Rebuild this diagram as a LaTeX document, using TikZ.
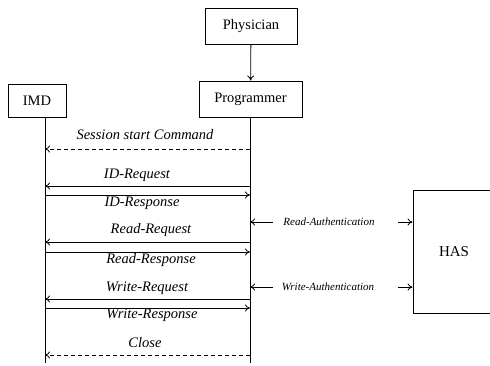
\documentclass[tikz,border=0pt]{standalone}
\usepackage{fontspec}
\setmainfont{Liberation Serif}
\usetikzlibrary{arrows.meta}
\begin{document}
\begin{tikzpicture}[x=1pt,y=-1pt,
  box/.style={draw,line width=0.9pt,inner sep=0pt,font=\fontsize{14.5}{17}\selectfont},
  msg/.style={line width=0.8pt,-{To[length=5pt,width=7pt]}},
  dmsg/.style={msg,dash pattern=on 4pt off 3pt},
  lab/.style={font=\fontsize{14.5}{17}\selectfont\itshape,inner sep=0pt},
  alab/.style={font=\fontsize{11}{13}\selectfont\itshape,inner sep=0pt},
  life/.style={line width=0.8pt}]
\clip (0,0) rectangle (490,365);
\fill[white] (0,0) rectangle (490,365);
% boxes
\node[box,minimum width=92pt,minimum height=36pt] (phys) at (251,26) {Physician};
\node[box,minimum width=103pt,minimum height=36pt] (prog) at (250.5,99) {Programmer};
\node[box,minimum width=58pt,minimum height=33pt] (imd) at (37,100.5) {IMD};
\node[box,minimum width=82pt,minimum height=123pt,font=\fontsize{15}{18}\selectfont] (has) at (454,251.5) {HAS};
\draw[msg] (phys) -- (prog);
% lifelines
\coordinate (imdtop) at (45,117);
\coordinate (imdbot) at (45,363);
\coordinate (progbot) at (250,363);
\draw[life] (imdtop) -- (imdbot);
\draw[life] (prog.south -| progbot) -- (progbot);
% message coordinates
\foreach \n/\y in {s/149,a/186,b/195,c/242,d/252,e/299,f/308,g/355,ra/222,wa/287}{
  \coordinate (i\n) at (45,\y);
  \coordinate (p\n) at (250,\y);
}
\draw[dmsg] (ps) -- (is);
\node[lab] (ls) at (145,135) {Session start Command};
\draw[msg] (pa) -- (ia);
\node[lab] (la) at (137,175) {ID-Request};
\draw[msg] (ib) -- (pb);
\node[lab] (lb) at (142,203) {ID-Response};
\draw[msg] (pc) -- (ic);
\node[lab] (lc) at (151,230) {Read-Request};
\draw[msg] (id) -- (pd);
\node[lab] (ld) at (151,260) {Read-Response};
\draw[msg] (pe) -- (ie);
\node[lab] (le) at (147,288) {Write-Request};
\draw[msg] (if) -- (pf);
\node[lab] (lf) at (152,315) {Write-Response};
\draw[dmsg] (pg) -- (ig);
\node[lab] (lg) at (145,343) {Close};
% authentication
\node[alab] (rauth) at (329,222) {Read-Authentication};
\node[alab] (wauth) at (328,287) {Write-Authentication};
\coordinate (ral) at (273,222);
\coordinate (rar) at (398,222);
\coordinate (wal) at (273,287);
\coordinate (war) at (398,287);
\draw[msg] (ral) -- (pra);
\draw[msg] (rar) -- (rar -| has.west);
\draw[msg] (wal) -- (pwa);
\draw[msg] (war) -- (war -| has.west);
\end{tikzpicture}
\end{document}
